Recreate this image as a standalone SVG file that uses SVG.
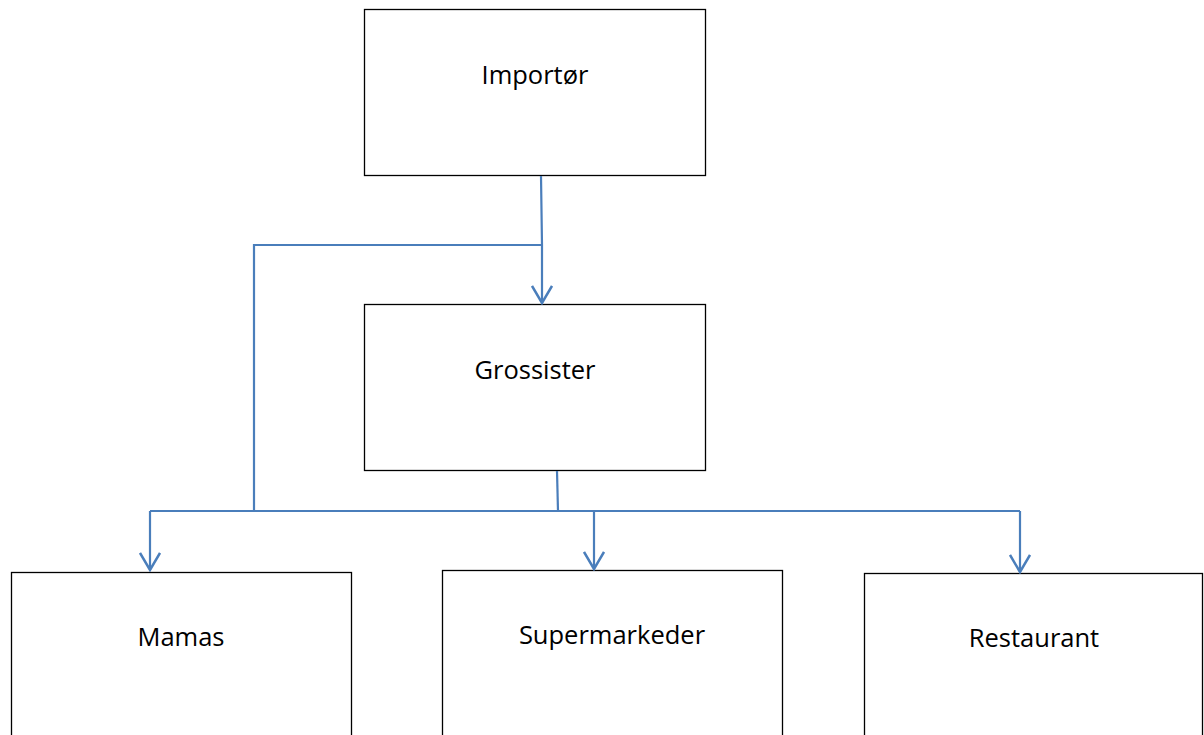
<svg xmlns="http://www.w3.org/2000/svg" width="1204" height="735" viewBox="0 0 1204 735">
<style>
.box{fill:#fff;stroke:#000;stroke-width:1.3}
.lbl{font-family:"Open Sans","Liberation Sans",sans-serif;font-size:25.5px;fill:#000;text-anchor:middle}
.con{fill:none;stroke:#4a7ebb;stroke-width:2.2}
</style>
<defs>
<marker id="arr" viewBox="0 0 20 22" refX="18" refY="11" markerWidth="20" markerHeight="22" markerUnits="userSpaceOnUse" orient="auto">
<path d="M1,1 L18,11 L1,21" fill="none" stroke="#4a7ebb" stroke-width="2.5"/>
</marker>
</defs>
<rect width="1204" height="735" fill="#fff"/>
<g id="importor"><rect class="box" x="364.5" y="9.5" width="341" height="166"/><text class="lbl" x="535" y="84">Importør</text></g>
<g id="grossister"><rect class="box" x="364.5" y="304.5" width="341" height="166"/><text class="lbl" x="535" y="379">Grossister</text></g>
<g id="mamas"><rect class="box" x="11.5" y="572.5" width="340" height="170"/><text class="lbl" x="181" y="646">Mamas</text></g>
<g id="supermarkeder"><rect class="box" x="442.5" y="570.5" width="340" height="170"/><text class="lbl" x="612" y="644">Supermarkeder</text></g>
<g id="restaurant"><rect class="box" x="864.5" y="573.5" width="338" height="170"/><text class="lbl" x="1034" y="647">Restaurant</text></g>
<g id="connectors">
<path class="con" d="M541,176 L542,245 L542,303" marker-end="url(#arr)"/>
<path class="con" d="M542,245 L254,245 L254,511"/>
<path class="con" d="M557,471 L558,511"/>
<path class="con" d="M150,511 L1020,511"/>
<path class="con" d="M150,511 L150,570" marker-end="url(#arr)"/>
<path class="con" d="M594,511 L594,569" marker-end="url(#arr)"/>
<path class="con" d="M1020,511 L1020,572" marker-end="url(#arr)"/>
</g>
</svg>
